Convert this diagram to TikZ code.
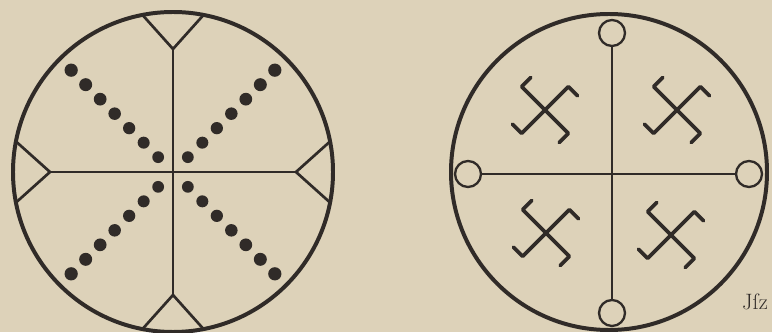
\documentclass[tikz,border=0pt]{standalone}
\usepackage{tikz}
\usetikzlibrary{positioning}
\definecolor{paper}{RGB}{221,210,185}
\definecolor{ink}{RGB}{48,43,40}

\begin{document}
\begin{tikzpicture}[x=0.3mm,y=0.3mm,
  ring/.style={ink,line width=3.4pt},
  spoke/.style={ink,line width=2.3pt},
  knob/.style={circle,draw=ink,line width=2pt,minimum size=7.8mm,inner sep=0pt},
  hook/.style={ink,line width=3.2pt,line cap=round,line join=round}]

\fill[paper] (0,0) rectangle (772,332);
\useasboundingbox (0,0) rectangle (772,332);

% ---------------- left disc: forked cross and dotted diagonals ----------------
\begin{scope}[shift={(173,160)}]
\draw[ring] (0,0) circle (160);
% forks
\foreach \n/\a in {N/90,W/180,S/270,E/0}{
  \coordinate (v\n) at (\a:123);
  \coordinate (f\n a) at ({\a+11}:160);
  \coordinate (f\n b) at ({\a-11}:160);
  \draw[spoke] (f\n a) -- (v\n) -- (f\n b);
}
\draw[spoke] (vN) -- (vS);
\draw[spoke] (vW) -- (vE);
% dots
\foreach \a in {45,135,225,315}{
  \foreach \k in {0,...,6}{
    \fill[ink] (\a:{21+20.5*\k}) circle ({5.9+0.12*\k});
  }
}
\end{scope}

% ---------------- right disc: cross with knobs and four hooked crosses ----------------
\begin{scope}[shift={(609,160)}]
\draw[ring] (0,0) circle (158);
\node[knob] (kN) at (3,139) {};
\node[knob] (kS) at (3,-141) {};
\node[knob] (kW) at (-141,-2) {};
\node[knob] (kE) at (140,-2) {};
\draw[spoke] (kN) -- (kS);
\draw[spoke] (kW) -- (kE);
% hooked crosses
\foreach \cx/\cy in {-64/62,68/62,-63/-61,62/-63}{
  \foreach \a in {45,135,225,315}{
    \draw[hook] (\cx,\cy) -- ++(\a:33) -- ++({\a-90}:13);
  }
}
\end{scope}

\node[ink,font=\fontsize{19}{19}\selectfont,inner sep=0pt] (sign) at (755,30) {Jſz};

\end{tikzpicture}
\end{document}
